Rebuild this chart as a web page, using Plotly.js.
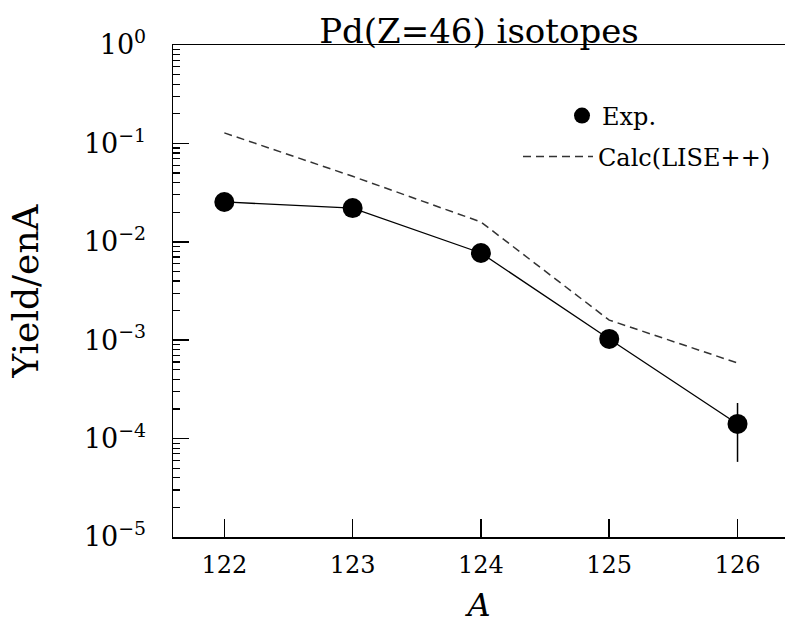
<!DOCTYPE html>
<html>
<head>
<meta charset="utf-8">
<script src="https://cdn.plot.ly/plotly-3.0.1.min.js"></script>
<style>html,body{margin:0;padding:0;background:#fff}</style>
</head>
<body>
<div id="chart" style="width:785px;height:624px"></div>
<script>
// Data
var massNumbers = [122, 123, 124, 125, 126];
var expYield = [0.0254, 0.0220, 0.0077, 0.00103, 0.000141];
var expErrPlus = [0, 0, 0, 0, 0.000089];
var expErrMinus = [0, 0, 0, 0, 0.000083];
var calcYield = [0.128, 0.0463, 0.0159, 0.00160, 0.000586];
var yTickVals = [1, 0.1, 0.01, 0.001, 0.0001, 0.00001];
var yTickText = ['10<sup>0</sup>', '10<sup>\u22121</sup>', '10<sup>\u22122</sup>', '10<sup>\u22123</sup>', '10<sup>\u22124</sup>', '10<sup>\u22125</sup>'];
var xTickVals = [122, 123, 124, 125, 126];

var FONT = 'DejaVu Serif';

var traces = [
  {
    x: massNumbers, y: calcYield, type: 'scatter', mode: 'lines',
    name: 'Calc(LISE++)', legend: 'legend2',
    line: {color: '#333', width: 1.5, dash: '8px,5px'}
  },
  {
    x: massNumbers, y: expYield, type: 'scatter', mode: 'lines',
    showlegend: false, hoverinfo: 'skip',
    line: {color: '#000', width: 1.3}
  },
  {
    x: massNumbers, y: expYield, type: 'scatter', mode: 'markers',
    name: 'Exp.', legend: 'legend',
    marker: {color: '#000', size: 20},
    error_y: {type: 'data', symmetric: false, array: expErrPlus, arrayminus: expErrMinus,
              color: '#000', thickness: 1.5, width: 0}
  }
];

var layout = {
  width: 785, height: 624,
  margin: {l: 173, r: 0, t: 45, b: 87, autoexpand: false},
  paper_bgcolor: '#fff', plot_bgcolor: '#fff',
  font: {family: FONT, color: '#000'},
  title: {
    text: 'Pd(Z=46) isotopes',
    font: {family: FONT, size: 34, color: '#000'},
    xref: 'paper', x: 0.5, xanchor: 'center',
    yref: 'paper', y: 1, yanchor: 'bottom', pad: {b: 2}
  },
  xaxis: {
    range: [121.6, 126.37],
    tickmode: 'array', tickvals: xTickVals,
    ticks: 'inside', ticklen: 18, tickwidth: 1.5, tickcolor: '#000',
    showline: true, linecolor: '#000', linewidth: 1.5, mirror: true,
    showgrid: false, zeroline: false,
    ticklabelstandoff: 6,
    tickfont: {family: FONT, size: 24, color: '#000'},
    title: {text: '<i>A</i>', font: {family: FONT, size: 32, color: '#000'}, standoff: 16}
  },
  yaxis: {
    type: 'log', range: [-5, 0],
    tickmode: 'array', tickvals: yTickVals, ticktext: yTickText,
    ticks: 'inside', ticklen: 16, tickwidth: 1.5, tickcolor: '#000',
    minor: {dtick: 'D1', ticks: 'inside', ticklen: 7, tickwidth: 1.2, tickcolor: '#000', showgrid: false},
    showline: true, linecolor: '#000', linewidth: 1.5,
    showgrid: false, zeroline: false,
    ticklabelstandoff: 20,
    tickfont: {family: FONT, size: 27, color: '#000'},
    title: {text: 'Yield/enA', font: {family: FONT, size: 36, color: '#000'}, standoff: 34}
  },
  legend: {
    x: (562 - 173) / 612, y: 1 - (116 - 45) / 492,
    xanchor: 'left', yanchor: 'middle',
    bgcolor: 'rgba(0,0,0,0)', borderwidth: 0, itemwidth: 30,
    font: {family: FONT, size: 24, color: '#000'}
  },
  legend2: {
    x: (518 - 173) / 612, y: 1 - (157 - 45) / 492,
    xanchor: 'left', yanchor: 'middle',
    bgcolor: 'rgba(0,0,0,0)', borderwidth: 0, itemwidth: 70,
    font: {family: FONT, size: 24, color: '#000'}
  },
  showlegend: true
};

Plotly.newPlot('chart', traces, layout, {displayModeBar: false, staticPlot: true});
</script>
</body>
</html>
